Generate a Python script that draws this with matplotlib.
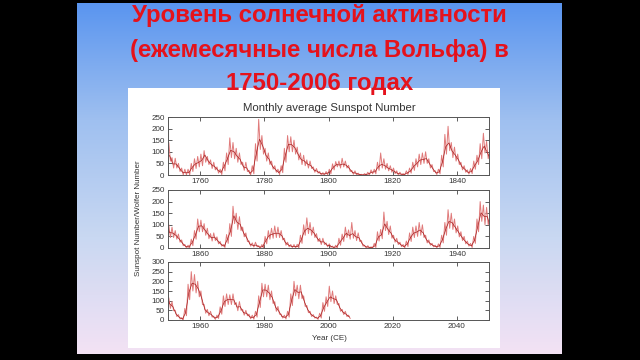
import numpy as np
import matplotlib.pyplot as plt
from matplotlib.colors import LinearSegmentedColormap

# yearly sunspot numbers 1749-2006: mean, lowest and highest monthly value
years = np.arange(1749, 2007)

ssn_mean = [
    80.9, 83.4, 47.7, 47.8, 30.7, 12.2, 9.6, 10.2, 32.4, 47.6,
    54.0, 62.9, 85.9, 61.2, 45.1, 36.4, 20.9, 11.4, 37.8, 69.8,
    106.1, 100.8, 81.6, 66.5, 34.8, 30.6, 7.0, 19.8, 92.5, 154.4,
    125.9, 84.8, 68.1, 38.5, 22.8, 10.2, 24.1, 82.9, 132.0, 130.9,
    118.1, 89.9, 66.6, 60.0, 46.9, 41.0, 21.3, 16.0, 6.4, 4.1,
    6.8, 14.5, 34.0, 45.0, 43.1, 47.5, 42.2, 28.1, 10.1, 8.1,
    2.5, 0.0, 1.4, 5.0, 12.2, 13.9, 35.4, 45.8, 41.1, 30.1,
    23.9, 15.6, 6.6, 4.0, 1.8, 8.5, 16.6, 36.3, 49.6, 64.2,
    67.0, 70.9, 47.8, 27.5, 8.5, 13.2, 56.9, 121.5, 138.3, 103.2,
    85.7, 64.6, 36.7, 24.2, 10.7, 15.0, 40.1, 61.5, 98.5, 124.7,
    96.3, 66.6, 64.5, 54.1, 39.0, 20.6, 6.7, 4.3, 22.7, 54.8,
    93.8, 95.8, 77.2, 59.1, 44.0, 47.0, 30.5, 16.3, 7.3, 37.6,
    74.0, 139.0, 111.2, 101.6, 66.2, 44.7, 17.0, 11.3, 12.4, 3.4,
    6.0, 32.3, 54.3, 59.7, 63.7, 63.5, 52.2, 25.4, 13.1, 6.8,
    6.3, 7.1, 35.6, 73.0, 85.1, 78.0, 64.0, 41.8, 26.2, 26.7,
    12.1, 9.5, 2.7, 5.0, 24.4, 42.0, 63.5, 53.8, 62.0, 48.5,
    43.9, 18.6, 5.7, 3.6, 1.4, 9.6, 47.4, 57.1, 103.9, 80.6,
    63.6, 37.6, 26.1, 14.2, 5.8, 16.7, 44.3, 63.9, 69.0, 77.8,
    64.9, 35.7, 21.2, 11.1, 5.7, 8.7, 36.1, 79.7, 114.4, 109.6,
    88.8, 67.8, 47.5, 30.6, 16.3, 9.6, 33.2, 92.6, 151.6, 136.3,
    134.7, 83.9, 69.4, 31.5, 13.9, 4.4, 38.0, 141.7, 190.2, 184.8,
    159.0, 112.3, 53.9, 37.6, 27.9, 10.2, 15.1, 47.0, 93.8, 105.9,
    105.5, 104.5, 66.6, 68.9, 38.0, 34.5, 15.5, 12.6, 27.5, 92.5,
    155.4, 154.7, 140.5, 115.9, 66.6, 45.9, 17.9, 13.4, 29.4, 100.2,
    157.6, 142.6, 145.7, 94.3, 54.6, 29.9, 17.5, 8.6, 21.5, 64.3,
    93.3, 119.6, 111.0, 104.0, 63.7, 40.4, 29.8, 15.2,
]

ssn_low = [
    58, 60, 30, 30, 15, 0, 0, 0, 15, 28,
    35, 40, 55, 45, 28, 22, 8, 2, 18, 45,
    75, 70, 55, 45, 20, 15, 0, 5, 60, 110,
    90, 60, 45, 25, 12, 2, 10, 55, 100, 100,
    90, 65, 45, 40, 30, 28, 12, 8, 0, 0,
    0, 5, 22, 35, 30, 35, 30, 15, 3, 0,
    0, 0, 0, 0, 5, 5, 20, 30, 25, 18,
    12, 6, 0, 0, 0, 2, 8, 20, 35, 45,
    50, 50, 30, 15, 2, 5, 35, 90, 105, 75,
    60, 45, 22, 12, 4, 6, 25, 45, 70, 95,
    70, 45, 45, 38, 25, 10, 0, 0, 10, 38,
    70, 70, 55, 40, 30, 32, 18, 8, 2, 20,
    50, 105, 80, 75, 48, 28, 8, 4, 5, 0,
    0, 18, 38, 42, 45, 45, 35, 12, 5, 2,
    0, 0, 20, 55, 62, 55, 45, 28, 15, 15,
    5, 3, 0, 0, 12, 28, 45, 38, 42, 32,
    28, 8, 0, 0, 0, 2, 30, 40, 75, 58,
    42, 25, 15, 6, 0, 6, 28, 45, 50, 55,
    45, 22, 12, 5, 0, 2, 22, 55, 85, 80,
    65, 48, 32, 18, 8, 2, 20, 70, 115, 100,
    100, 60, 48, 18, 5, 0, 22, 105, 150, 140,
    120, 80, 35, 22, 15, 3, 8, 30, 70, 80,
    80, 80, 48, 50, 25, 22, 6, 4, 15, 65,
    120, 120, 105, 85, 45, 30, 10, 5, 15, 75,
    125, 110, 110, 70, 38, 18, 10, 3, 10, 45,
    70, 95, 85, 80, 45, 28, 18, 8,
]

ssn_high = [
    120, 140, 75, 72, 50, 30, 25, 25, 50, 70,
    80, 90, 105, 80, 65, 55, 35, 25, 55, 95,
    160, 140, 115, 95, 55, 55, 20, 40, 135, 240,
    170, 115, 95, 60, 40, 25, 40, 115, 170, 165,
    150, 120, 95, 85, 65, 60, 35, 28, 15, 10,
    15, 25, 48, 58, 60, 72, 60, 42, 20, 18,
    8, 3, 6, 12, 22, 25, 55, 95, 70, 50,
    40, 30, 18, 12, 6, 18, 30, 55, 70, 90,
    95, 100, 70, 45, 18, 25, 85, 175, 210, 140,
    120, 90, 55, 40, 22, 28, 60, 85, 135, 180,
    145, 100, 90, 75, 60, 35, 15, 12, 38, 75,
    125, 120, 105, 85, 62, 65, 48, 28, 15, 58,
    105, 180, 150, 135, 90, 65, 30, 22, 25, 10,
    15, 50, 75, 85, 95, 90, 75, 42, 25, 15,
    15, 16, 55, 100, 130, 110, 90, 62, 42, 42,
    22, 18, 8, 12, 42, 60, 90, 78, 110, 75,
    65, 32, 12, 10, 5, 20, 70, 80, 155, 115,
    95, 55, 42, 25, 15, 30, 65, 90, 95, 110,
    100, 55, 35, 20, 12, 18, 55, 110, 165, 150,
    125, 95, 70, 50, 30, 20, 50, 125, 200, 185,
    175, 115, 95, 50, 28, 12, 60, 185, 250, 235,
    200, 150, 80, 55, 45, 20, 25, 68, 125, 135,
    130, 135, 90, 95, 55, 50, 30, 25, 45, 125,
    190, 185, 180, 150, 95, 70, 30, 25, 45, 135,
    200, 180, 180, 125, 75, 45, 28, 15, 35, 90,
    120, 175, 150, 125, 85, 55, 45, 25,
]

panels = [(1750, 1850, 250), (1850, 1950, 250), (1950, 2050, 300)]

# monthly-like trace: highest and lowest month of each year in turn
zig_x = np.column_stack([years + 0.25, years + 0.75]).ravel()
zig_y = np.column_stack([ssn_high, ssn_low]).ravel()

fig = plt.figure(figsize=(6.4, 3.6), dpi=100, facecolor='black')

W, H = 640.0, 360.0
def box(x0, y0, x1, y1):
    return [x0 / W, 1 - y1 / H, (x1 - x0) / W, (y1 - y0) / H]

# slide background
bg = fig.add_axes(box(77, 3, 562, 354), zorder=0)
cmap = LinearSegmentedColormap.from_list(
    'slide', ['#5a95ef', '#9fc0f0', '#c9d8f2', '#f3e2f4'])
bg.imshow(np.linspace(0, 1, 256).reshape(-1, 1), aspect='auto', cmap=cmap,
          extent=[0, 1, 0, 1], origin='upper')
bg.set_axis_off()

# white chart card
card = fig.add_axes(box(128, 88, 500, 348), zorder=1)
card.set_facecolor('white')
card.set_xticks([])
card.set_yticks([])
for s in card.spines.values():
    s.set_visible(False)

title_kw = dict(color='#e5121c', fontsize=17.3, fontweight='bold',
                family='Liberation Sans', ha='center', va='baseline')
fig.text(319.5 / W, 1 - 22 / H, 'Уровень солнечной активности', **title_kw)
fig.text(319.5 / W, 1 - 57 / H, '(ежемесячные числа Вольфа) в', **title_kw)
fig.text(319.5 / W, 1 - 90 / H, '1750-2006 годах', **title_kw)

small = dict(family='Liberation Sans', color='#333333', zorder=3)
fig.text(329 / W, 1 - 111 / H, 'Monthly average Sunspot Number',
         fontsize=8.2, ha='center', va='baseline', **small)

tops = [117, 190, 262]
for (x0, x1, ymax), top in zip(panels, tops):
    ax = fig.add_axes(box(168, top, 489, top + 58), zorder=2)
    ax.set_facecolor('white')
    ax.plot(zig_x, zig_y, color='#e07a7a', lw=0.7)
    ax.plot(years + 0.5, ssn_mean, color='#a81e1e', lw=0.5)
    ax.set_xlim(x0, x1)
    ax.set_ylim(0, ymax)
    ax.set_xticks(range(x0 + 10, x1, 20))
    ax.set_yticks(range(0, ymax + 1, 50))
    ax.tick_params(direction='in', top=True, right=True, length=3, width=0.6,
                   labelsize=5.8, labelcolor='#333333', color='#444444', pad=2.5)
    for lab in ax.get_xticklabels() + ax.get_yticklabels():
        lab.set_family('Liberation Sans')
    for s in ax.spines.values():
        s.set_color('#555555')
        s.set_linewidth(0.7)

fig.text(138 / W, 1 - 218 / H, 'Sunspot Number/Wolfer Number', rotation=90,
         fontsize=5.8, ha='center', va='center', **small)
fig.text(329 / W, 1 - 340 / H, 'Year (CE)', fontsize=5.8,
         ha='center', va='baseline', **small)

fig.savefig('out.png', dpi=100, facecolor='black')
